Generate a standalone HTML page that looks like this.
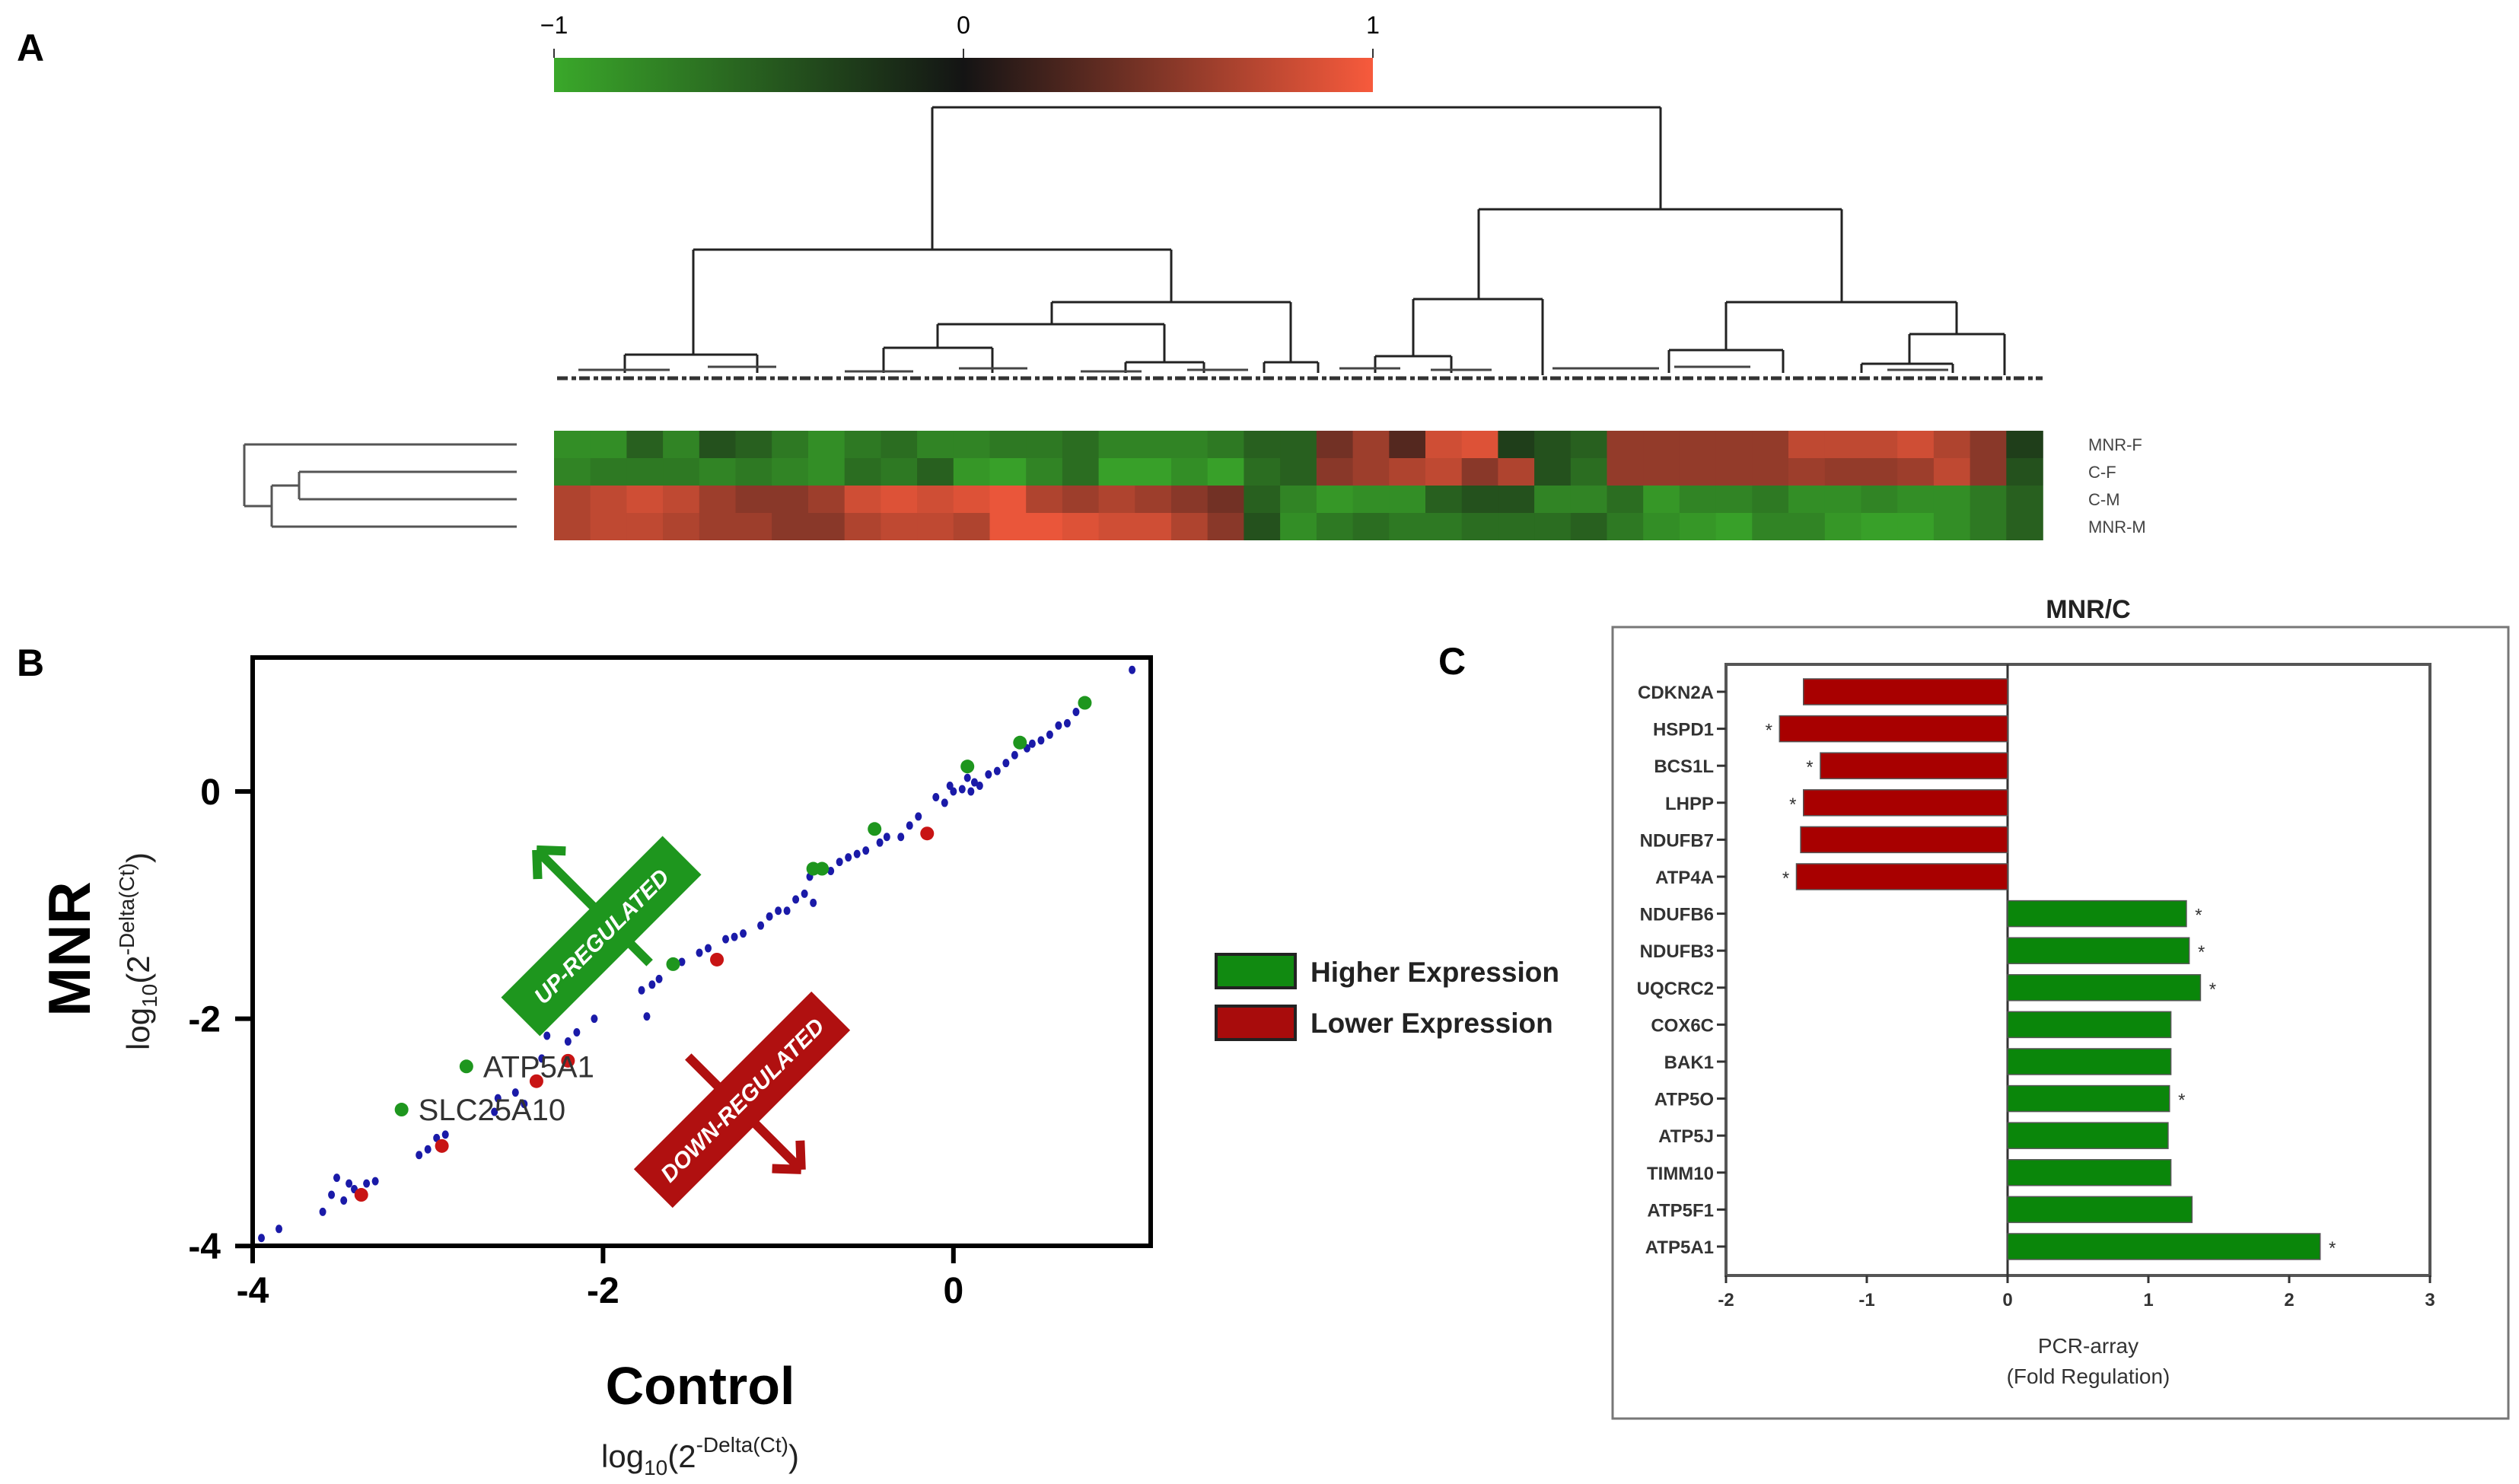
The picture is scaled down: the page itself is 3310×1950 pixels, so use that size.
<!DOCTYPE html>
<html><head><meta charset="utf-8">
<style>
html,body{margin:0;padding:0;background:#fff;}
svg{display:block;font-family:"Liberation Sans",sans-serif;}
</style></head>
<body>
<svg id="fig" width="3310" height="1950" viewBox="0 0 3310 1950" xmlns="http://www.w3.org/2000/svg">
<defs>
<linearGradient id="cbar" x1="0" x2="1" y1="0" y2="0">
<stop offset="0" stop-color="#3aa82a"/><stop offset="0.5" stop-color="#141414"/><stop offset="1" stop-color="#f75a3c"/>
</linearGradient>
</defs>
<!-- Panel A -->
<text x="22" y="80" font-size="50" font-weight="bold">A</text>
<g>
<rect x="728" y="76" width="1076" height="45" fill="url(#cbar)"/>
<text x="728" y="44" font-size="32" text-anchor="middle">−1</text>
<text x="1266" y="44" font-size="32" text-anchor="middle">0</text>
<text x="1804" y="44" font-size="32" text-anchor="middle">1</text>
<line x1="728" y1="64" x2="728" y2="76" stroke="#333" stroke-width="2"/>
<line x1="1266" y1="64" x2="1266" y2="76" stroke="#333" stroke-width="2"/>
<line x1="1804" y1="64" x2="1804" y2="76" stroke="#333" stroke-width="2"/>
</g>
<g id="coldendro" stroke="#222" stroke-width="3" fill="none"></g>
<g id="rowdendro" stroke="#555" stroke-width="3" fill="none"></g>
<g id="heatmap"></g>
<g id="rowlabels" font-size="22" fill="#444"></g>

<!-- Panel B -->
<text x="22" y="888" font-size="50" font-weight="bold">B</text>
<g id="scatter"></g>
<g>
<g>
<rect x="1598" y="1254" width="104" height="44" fill="#118a11" stroke="#222" stroke-width="4"/>
<text x="1722" y="1290" font-size="37" font-weight="bold" fill="#222">Higher Expression</text>
</g>
<g>
<rect x="1598" y="1322" width="104" height="44" fill="#a80c0c" stroke="#222" stroke-width="4"/>
<text x="1722" y="1357" font-size="37" font-weight="bold" fill="#222">Lower Expression</text>
</g>
</g>

<!-- Panel C -->
<text x="1890" y="886" font-size="50" font-weight="bold">C</text>
<text x="2744" y="812" font-size="34" font-weight="bold" text-anchor="middle" fill="#222">MNR/C</text>
<rect x="2119" y="824" width="1177" height="1040" fill="none" stroke="#777" stroke-width="3"/>
<g id="bars"></g>

<script>
// ---------- Panel A data ----------
var rowNames = ["MNR-F","C-F","C-M","MNR-M"];
var rowMNRF = [-0.7,-0.7,-0.3,-0.6,-0.2,-0.3,-0.5,-0.7,-0.5,-0.4,-0.6,-0.6,-0.5,-0.5,-0.4,-0.6,-0.6,-0.6,-0.5,-0.3,-0.3,0.2,0.4,0.1,0.7,0.8,-0.1,-0.2,-0.3,0.35,0.35,0.35,0.35,0.35,0.6,0.6,0.6,0.7,0.5,0.3,-0.1];
var rowCF   = [-0.6,-0.5,-0.5,-0.5,-0.6,-0.5,-0.6,-0.7,-0.4,-0.5,-0.3,-0.8,-0.9,-0.6,-0.4,-0.9,-0.9,-0.7,-0.9,-0.4,-0.3,0.3,0.4,0.5,0.6,0.3,0.5,-0.2,-0.4,0.35,0.35,0.35,0.35,0.35,0.4,0.35,0.35,0.4,0.6,0.3,-0.2];
var rowCM   = [0.5,0.6,0.7,0.6,0.4,0.3,0.3,0.4,0.7,0.8,0.7,0.8,0.9,0.5,0.4,0.5,0.4,0.3,0.2,-0.3,-0.6,-0.8,-0.7,-0.7,-0.3,-0.2,-0.2,-0.6,-0.6,-0.4,-0.8,-0.6,-0.6,-0.5,-0.7,-0.7,-0.6,-0.7,-0.7,-0.5,-0.3];
var rowMNRM = [0.5,0.6,0.6,0.5,0.4,0.4,0.3,0.3,0.5,0.6,0.6,0.5,0.9,0.9,0.8,0.7,0.7,0.5,0.3,-0.2,-0.7,-0.5,-0.4,-0.5,-0.5,-0.4,-0.4,-0.4,-0.3,-0.5,-0.7,-0.8,-0.9,-0.6,-0.6,-0.8,-0.9,-0.9,-0.7,-0.5,-0.3];
var heatRows = [rowMNRF,rowCF,rowCM,rowMNRM];

// ---------- Panel B data ----------
var ctrlBlue = [-3.95,-3.85,-3.6,-3.55,-3.52,-3.48,-3.45,-3.42,-3.35,-3.3,-3.05,-3.0,-2.95,-2.9,-2.62,-2.6,-2.5,-2.45,-2.35,-2.32,-2.2,-2.15,-2.05,-1.75,-1.78,-1.72,-1.68,-1.55,-1.45,-1.4,-1.3,-1.2,-1.1,-1.05,-0.95,-0.9,-0.85,-0.82,-0.8,-0.7,-0.65,-0.55,-0.5,-0.42,-0.38,-0.3,-0.25,-0.1,-0.2,-0.05,0.0,0.05,0.08,0.12,0.15,0.2,0.25,0.3,0.35,0.42,0.5,0.55,0.6,0.65,0.7,1.02,-0.6,-1.0,-1.25,0.45,-0.02,0.1];
var mnrBlue  = [-3.93,-3.85,-3.7,-3.55,-3.4,-3.6,-3.45,-3.5,-3.45,-3.43,-3.2,-3.15,-3.05,-3.02,-2.82,-2.7,-2.65,-2.75,-2.35,-2.15,-2.2,-2.12,-2.0,-1.98,-1.75,-1.7,-1.65,-1.5,-1.42,-1.38,-1.3,-1.25,-1.18,-1.1,-1.05,-0.95,-0.9,-0.75,-0.98,-0.7,-0.62,-0.55,-0.52,-0.45,-0.4,-0.4,-0.3,-0.05,-0.22,-0.1,0.0,0.02,0.12,0.08,0.05,0.15,0.18,0.25,0.32,0.38,0.45,0.5,0.58,0.6,0.7,1.07,-0.58,-1.05,-1.28,0.42,0.05,0.0];
var ctrlUp = [0.75,0.38,0.08,-0.45,-0.75,-0.8,-1.6,-2.78,-3.15];
var mnrUp  = [0.78,0.43,0.22,-0.33,-0.68,-0.68,-1.52,-2.42,-2.8];
var ctrlDown = [-0.15,-1.35,-2.38,-2.2,-2.92,-3.38];
var mnrDown  = [-0.37,-1.48,-2.55,-2.37,-3.12,-3.55];
var xTicks = [-4,-2,0];
var yTicks = [0,-2,-4];

// ---------- Panel C data ----------
var genes = ["CDKN2A","HSPD1","BCS1L","LHPP","NDUFB7","ATP4A","NDUFB6","NDUFB3","UQCRC2","COX6C","BAK1","ATP5O","ATP5J","TIMM10","ATP5F1","ATP5A1"];
var fold  = [-1.45,-1.62,-1.33,-1.45,-1.47,-1.5,1.27,1.29,1.37,1.16,1.16,1.15,1.14,1.16,1.31,2.22];
var signif = [0,1,1,1,0,1,1,1,1,0,0,1,0,0,0,1];
var barTicks = [-2,-1,0,1,2,3];

var NS="http://www.w3.org/2000/svg";
function mk(tag, attrs, parent){var e=document.createElementNS(NS,tag);for(var k in attrs)e.setAttribute(k,attrs[k]);parent.appendChild(e);return e;}
function logLabel(t){
  var parts=[["log",{}],["10",{"font-size":"28",dy:"10"}],["(2",{dy:"-10"}],["-Delta(Ct)",{"font-size":"28",dy:"-20"}],[")",{dy:"20"}]];
  parts.forEach(function(p){var s=mk("tspan",p[1],t);s.textContent=p[0];});
}

// ---- heatmap ----
function heatColor(v){
  var t=Math.pow(Math.abs(v),0.55);
  var c0=[20,20,20], c=v<0?[58,168,42]:[247,90,60];
  var r=Math.round(c0[0]+(c[0]-c0[0])*t), g=Math.round(c0[1]+(c[1]-c0[1])*t), b=Math.round(c0[2]+(c[2]-c0[2])*t);
  return "rgb("+r+","+g+","+b+")";
}
(function(){
  var hm=document.getElementById("heatmap");
  var x0=728,x1=2684,y0=566,rh=36;
  heatRows.forEach(function(row,ri){
    var cw=(x1-x0)/row.length;
    row.forEach(function(v,ci){
      var r=mk("rect",{x:(x0+ci*cw).toFixed(1),y:y0+ri*rh,width:(cw+0.8).toFixed(1),height:rh,fill:heatColor(v)},hm);
      
      
    });
  });
  var rl=document.getElementById("rowlabels");
  rowNames.forEach(function(n,i){
    var t=mk("text",{x:2744,y:y0+i*rh+26},rl);t.textContent=n;
    
    
  });
  var rd=document.getElementById("rowdendro");
  var ys=[y0+18,y0+54,y0+90,y0+126];
  mk("path",{d:"M679 "+ys[0]+" H321 M679 "+ys[1]+" H393 M679 "+ys[2]+" H393 M679 "+ys[3]+" H357 M393 "+ys[1]+" V"+ys[2]+" M393 "+((ys[1]+ys[2])/2)+" H357 M357 "+((ys[1]+ys[2])/2)+" V"+ys[3]+" M357 "+((ys[1]+ys[2]+2*ys[3])/4)+" H321 M321 "+ys[0]+" V"+((ys[1]+ys[2]+2*ys[3])/4)},rd);
  var cd=document.getElementById("coldendro");
  var nodes=[[1225,2182,141],[911,1539,328],[1943,2420,275],[821,995,466],[1382,1696,397],[1232,1530,426],[1161,1304,457],[1479,1582,476],[1661,1732,476],[1857,2027,393],[1807,1907,468],[2268,2571,397],[2193,2343,460],[2509,2634,439],[2446,2566,478]];
  var d="";
  nodes.forEach(function(n){d+="M"+n[0]+" "+n[2]+" H"+n[1];});
  var links=[[1225,141,328],[2182,141,275],[911,328,466],[1539,328,397],[1943,275,393],[2420,275,397],[1382,397,426],[1696,397,476],[1232,426,457],[1530,426,476],[1857,393,468],[2027,393,493],[2268,397,460],[2571,397,439],[2509,439,478],[2634,439,493],[821,466,490],[995,466,490],[1161,457,490],[1304,457,490],[1479,476,490],[1582,476,490],[1661,476,490],[1732,476,490],[1807,468,490],[1907,468,490],[2193,460,490],[2343,460,490],[2446,478,490],[2566,478,490]];
  links.forEach(function(l){d+="M"+l[0]+" "+l[1]+" V"+l[2];});
  mk("path",{d:d},cd);
  mk("path",{d:"M732 497 H2684",stroke:"#333","stroke-width":"5","stroke-dasharray":"14 5 6 4"},cd);
  mk("path",{d:"M760 486 H880 M930 482 H1020 M1110 488 H1200 M1260 484 H1350 M1420 488 H1500 M1560 486 H1640 M1760 484 H1840 M1880 486 H1960 M2040 484 H2180 M2200 482 H2300 M2480 486 H2560",stroke:"#444","stroke-width":"3"},cd);
})();

// ---- scatter ----
(function(){
  var g=document.getElementById("scatter");
  var X0=332, XU=230.2, Y0=1040, YU=149.3;
  function sx(v){return X0+(v+4)*XU;}
  function sy(v){return Y0-v*YU;}
  var box=mk("path",{d:"M332 864 H1512 V1637 H332 Z",fill:"none",stroke:"#000","stroke-width":"6"},g);
  
  
  xTicks.forEach(function(t){
    mk("line",{x1:sx(t),x2:sx(t),y1:1637,y2:1660,stroke:"#000","stroke-width":"6"},g);
    var tx=mk("text",{x:sx(t),y:1712,"font-size":"48","font-weight":"bold","text-anchor":"middle"},g);tx.textContent=String(t);
    
    
  });
  yTicks.forEach(function(t){
    mk("line",{x1:309,x2:332,y1:sy(t),y2:sy(t),stroke:"#000","stroke-width":"6"},g);
    var ty=mk("text",{x:290,y:sy(t)+17,"font-size":"48","font-weight":"bold","text-anchor":"end"},g);ty.textContent=String(t);
    
    
  });
  ctrlBlue.forEach(function(v,i){
    var c=mk("ellipse",{cx:sx(v),cy:sy(mnrBlue[i]),rx:4.5,ry:5.5,fill:"#1a1aa8"},g);
    
    
  });
  ctrlUp.forEach(function(v,i){
    var c=mk("circle",{cx:sx(v),cy:sy(mnrUp[i]),r:9,fill:"#1e961e"},g);
    
    
  });
  ctrlDown.forEach(function(v,i){
    var c=mk("circle",{cx:sx(v),cy:sy(mnrDown[i]),r:9,fill:"#c81414"},g);
    
    
  });
  var l1=mk("text",{x:sx(ctrlUp[7])+22,y:sy(mnrUp[7])+14,"font-size":"40",fill:"#333"},g);l1.textContent="ATP5A1";
  
  
  var l2=mk("text",{x:sx(ctrlUp[8])+22,y:sy(mnrUp[8])+14,"font-size":"40",fill:"#333"},g);l2.textContent="SLC25A10";
  
  
  // annotations
  var up=mk("g",{transform:"translate(790,1230) rotate(-45)"},g);
  
  
  mk("path",{d:"M20 70 L20 -140 M20 -140 L-6 -112 M20 -140 L46 -112",stroke:"#1e961e","stroke-width":"12",fill:"none"},up);
  mk("rect",{x:-150,y:-36,width:300,height:72,fill:"#1e961e"},up);
  var ut=mk("text",{x:0,y:11,"font-size":"30","font-weight":"bold","font-style":"italic",fill:"#fff","text-anchor":"middle"},up);ut.textContent="UP-REGULATED";
  var dn=mk("g",{transform:"translate(975,1445) rotate(-45)"},g);
  
  
  mk("path",{d:"M-10 -90 L-10 120 M-10 120 L-36 92 M-10 120 L16 92",stroke:"#b01010","stroke-width":"12",fill:"none"},dn);
  mk("rect",{x:-165,y:-36,width:330,height:72,fill:"#b01010"},dn);
  var dt=mk("text",{x:0,y:11,"font-size":"30","font-weight":"bold","font-style":"italic",fill:"#fff","text-anchor":"middle"},dn);dt.textContent="DOWN-REGULATED";
  // axis titles
  var xt=mk("text",{x:920,y:1845,"font-size":"70","font-weight":"bold","text-anchor":"middle"},g);xt.textContent="Control";
  
  
  var xs=mk("text",{x:920,y:1928,"font-size":"42","text-anchor":"middle",fill:"#222"},g);
  logLabel(xs);
  
  
  var yt=mk("text",{x:0,y:0,"font-size":"78","font-weight":"bold","text-anchor":"middle",transform:"translate(118,1247) rotate(-90)"},g);yt.textContent="MNR";
  
  
  var ys=mk("text",{x:0,y:0,"font-size":"42","text-anchor":"middle",fill:"#222",transform:"translate(196,1250) rotate(-90)"},g);
  logLabel(ys);
  
  
})();

// ---- bar chart ----
(function(){
  var g=document.getElementById("bars");
  var L=2268, U=185, Z=L+2*U, top=873, bottom=1676;
  function bx(v){return Z+v*U;}
  function slotY(i){return 909+(i+(i>=2?0.3:0))*48.6-(i>=2?14.6:0);}
  mk("path",{d:"M"+L+" "+top+" H"+bx(3)+" V"+bottom+" H"+L+" Z",fill:"none",stroke:"#555","stroke-width":"4"},g);
  mk("line",{x1:Z,x2:Z,y1:top,y2:bottom,stroke:"#333","stroke-width":"3"},g);
  barTicks.forEach(function(t){
    mk("line",{x1:bx(t),x2:bx(t),y1:bottom,y2:bottom+10,stroke:"#333","stroke-width":"3"},g);
    var tx=mk("text",{x:bx(t),y:bottom+40,"font-size":"24","font-weight":"bold","text-anchor":"middle",fill:"#333"},g);tx.textContent=String(t);
    
    
  });
  genes.forEach(function(gn,i){
    var y=slotY(i), v=fold[i];
    var r=mk("rect",{x:Math.min(bx(v),Z),y:y-17,width:Math.abs(bx(v)-Z),height:34,fill:v<0?"#a80000":"#0a860a",stroke:"#555","stroke-width":"1.5"},g);
    
    
    mk("line",{x1:L-12,x2:L,y1:y,y2:y,stroke:"#333","stroke-width":"3"},g);
    var t=mk("text",{x:L-16,y:y+9,"font-size":"24","font-weight":"bold","text-anchor":"end",fill:"#333"},g);t.textContent=gn;
    
    
    if(signif[i]){
      var s=mk("text",{x:v<0?bx(v)-14:bx(v)+16,y:y+10,"font-size":"24","text-anchor":"middle",fill:"#333"},g);s.textContent="*";
      
      
    }
  });
  var a1=mk("text",{x:2744,y:1778,"font-size":"28","text-anchor":"middle",fill:"#333"},g);a1.textContent="PCR-array";
  
  
  var a2=mk("text",{x:2744,y:1818,"font-size":"28","text-anchor":"middle",fill:"#333"},g);a2.textContent="(Fold Regulation)";
  
  
})();
</script>
</svg>
</body></html>
